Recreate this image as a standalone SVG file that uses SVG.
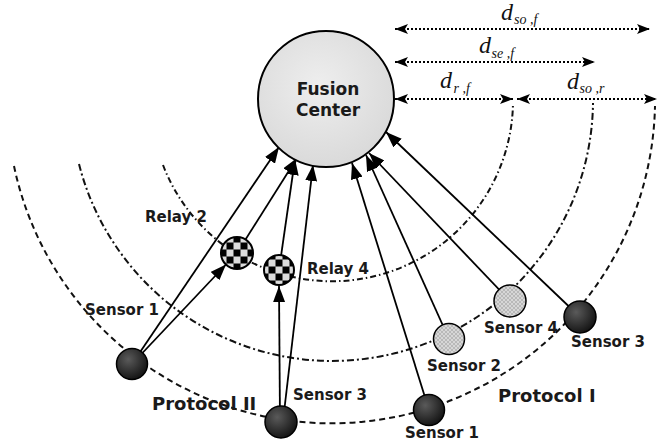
<svg xmlns="http://www.w3.org/2000/svg" width="658" height="447" viewBox="0 0 658 447">
<defs>
<style>
.lbl{font-family:"DejaVu Sans",Verdana,sans-serif;font-weight:bold;font-size:15px;fill:#1a1a1a}
.proto{font-size:18px}
.fct{font-size:17px}
.d{font-family:"Liberation Serif","Times New Roman",serif;font-style:italic;font-size:24px;fill:#111}
.sub{font-size:14px}
.arc{fill:none;stroke:#111;stroke-width:2}
.a1{stroke-dasharray:6 3 1.5 3}
.a2{stroke-dasharray:7 3 2 3}
.a3{stroke-dasharray:6 4}
.conn{stroke:#000;stroke-width:1.8;fill:none;marker-end:url(#ah)}
.dim{stroke:#000;stroke-width:2;stroke-dasharray:2 2;fill:none;marker-start:url(#dh);marker-end:url(#dh)}
.dark{fill:url(#gDark);stroke:#000;stroke-width:1.5}
.tex{fill:url(#pTex);stroke:#000;stroke-width:1.5}
.relay{stroke:#000;stroke-width:2}
</style>
<marker id="ah" markerUnits="userSpaceOnUse" markerWidth="17" markerHeight="12" refX="16" refY="6" orient="auto"><path d="M0,0 L16,6 L0,12 z" fill="#000"/></marker>
<marker id="dh" markerUnits="userSpaceOnUse" markerWidth="14" markerHeight="10" refX="13" refY="5" orient="auto-start-reverse"><path d="M0,0 L13,5 L0,10 L3,5 z" fill="#000"/></marker>
<radialGradient id="gDark" cx="0.38" cy="0.35" r="0.7"><stop offset="0" stop-color="#5a5a5a"/><stop offset="1" stop-color="#111"/></radialGradient>
<radialGradient id="gFC" cx="0.45" cy="0.4" r="0.65"><stop offset="0" stop-color="#eeeeee"/><stop offset="1" stop-color="#d8d8d8"/></radialGradient>
<pattern id="pTex" patternUnits="userSpaceOnUse" width="4" height="4"><rect width="4" height="4" fill="#b9b9b9"/><path d="M0,0 L4,4 M4,0 L0,4" stroke="#dedede" stroke-width="0.8"/></pattern>
<pattern id="chk2" patternUnits="userSpaceOnUse" x="233.5" y="249.5" width="14" height="14"><rect width="14" height="14" fill="#dcdcdc"/><rect width="7" height="7" fill="#000"/><rect x="7" y="7" width="7" height="7" fill="#000"/></pattern>
<pattern id="chk4" patternUnits="userSpaceOnUse" x="268.5" y="266.5" width="14" height="14"><rect width="14" height="14" fill="#dcdcdc"/><rect width="7" height="7" fill="#000"/><rect x="7" y="7" width="7" height="7" fill="#000"/></pattern>
</defs>
<rect width="658" height="447" fill="#fff"/>

<g id="ranges">
<path class="arc a1" d="M163,165 A181,181 0 0 0 513,103"/>
<path class="arc a2" d="M79,164 A261,261 0 0 0 593,103"/>
<path class="arc a3" d="M14,166 A324,324 0 0 0 655,106"/>
</g>

<g id="connectors">
<line class="conn" x1="132" y1="364" x2="279" y2="147"/>
<line class="conn" x1="132" y1="364" x2="226" y2="264.5"/>
<line class="conn" x1="237" y1="253" x2="297" y2="158"/>
<line class="conn" x1="279" y1="270" x2="295" y2="159"/>
<line class="conn" x1="280" y1="422" x2="279" y2="286"/>
<line class="conn" x1="283" y1="421" x2="313" y2="165"/>
<line class="conn" x1="429" y1="410" x2="352" y2="163"/>
<line class="conn" x1="449" y1="339" x2="366" y2="155"/>
<line class="conn" x1="510" y1="301" x2="369" y2="153"/>
<line class="conn" x1="580" y1="317" x2="386" y2="132"/>
<line class="dim" x1="395" y1="29" x2="650" y2="29"/>
<line class="dim" x1="395" y1="62" x2="595" y2="62"/>
<line class="dim" x1="395" y1="99" x2="513" y2="99"/>
<line class="dim" x1="517" y1="99" x2="657" y2="99"/>
</g>

<g id="distance-labels">
<text class="d" x="501" y="20">d<tspan class="sub" dx="1" dy="4">so ,f</tspan></text>
<text class="d" x="479" y="53">d<tspan class="sub" dx="0.5" dy="5">se ,f</tspan></text>
<text class="d" x="440" y="88">d<tspan class="sub" dx="1.5" dy="5">r ,f</tspan></text>
<text class="d" x="567" y="89">d<tspan class="sub" dx="0.5" dy="4">so ,r</tspan></text>
</g>

<g id="fusion-center">
<circle cx="326" cy="99" r="68" fill="url(#gFC)" stroke="#000" stroke-width="2"/>
<text class="lbl fct" x="328" y="95" text-anchor="middle">Fusion</text>
<text class="lbl fct" x="328" y="116" text-anchor="middle">Center</text>
</g>

<g id="relay2">
<circle class="relay" cx="237" cy="253" r="16" fill="url(#chk2)"/>
<text class="lbl" x="145" y="222">Relay 2</text>
</g>
<g id="relay4">
<circle class="relay" cx="279" cy="270" r="15" fill="url(#chk4)"/>
<text class="lbl" x="307" y="274">Relay 4</text>
</g>

<g id="sensor1-p2">
<circle class="dark" cx="132" cy="364" r="15.5"/>
<text class="lbl" x="85" y="315">Sensor 1</text>
</g>
<g id="sensor3-p2">
<circle class="dark" cx="281" cy="422" r="16"/>
<text class="lbl" x="293" y="400">Sensor 3</text>
</g>
<g id="sensor1-p1">
<circle class="dark" cx="429" cy="410" r="15.5"/>
<text class="lbl" x="405" y="438">Sensor 1</text>
</g>
<g id="sensor2">
<circle class="tex" cx="449" cy="339" r="15.5"/>
<text class="lbl" x="427" y="371">Sensor 2</text>
</g>
<g id="sensor4">
<circle class="tex" cx="510" cy="301" r="16"/>
<text class="lbl" x="484" y="333">Sensor 4</text>
</g>
<g id="sensor3-p1">
<circle class="dark" cx="580" cy="317" r="16"/>
<text class="lbl" x="571" y="347">Sensor 3</text>
</g>

<g id="protocol-labels">
<text class="lbl proto" x="152" y="410">Protocol II</text>
<text class="lbl proto" x="498" y="402">Protocol I</text>
</g>
</svg>
